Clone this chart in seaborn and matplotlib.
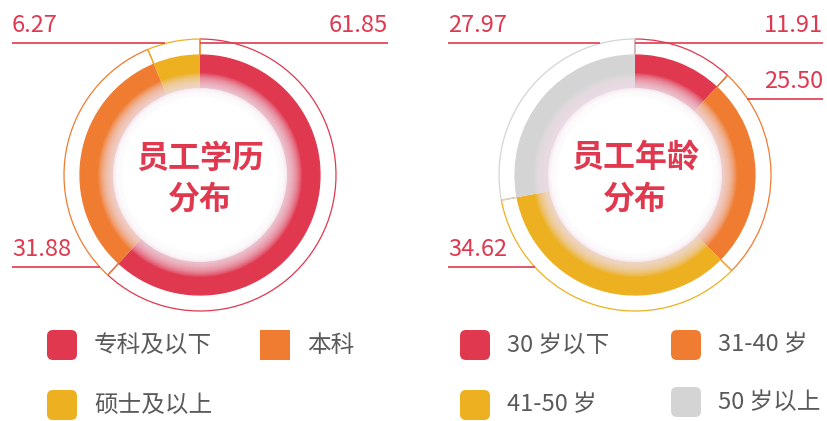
import numpy as np
import matplotlib.pyplot as plt
from matplotlib.patches import Circle, FancyBboxPatch
import seaborn as sns

# Data
edu_labels = ["专科及以下", "本科", "硕士及以上"]
edu_values = [61.85, 31.88, 6.27]
age_labels = ["30 岁以下", "31-40 岁", "41-50 岁", "50 岁以上"]
age_values = [11.91, 25.50, 34.62, 27.97]

RED = "#e0384f"
ORANGE = "#ef7c31"
YELLOW = "#edb021"
GREY = "#d4d4d4"
edu_colors = [RED, ORANGE, YELLOW]
age_colors = [RED, ORANGE, YELLOW, GREY]

sns.set_theme(style="white")
plt.rcParams["font.family"] = ["Noto Sans CJK SC", "DejaVu Sans"]

W, H = 827, 421
fig = plt.figure(figsize=(W / 100, H / 100), dpi=100)
ax = fig.add_axes([0, 0, 1, 1])


def Y(py):
    # pixel row from top -> data y
    return H - py


def donut(cx, cy, values, colors, title):
    c = (cx, Y(cy))
    # thin outer outline ring
    ax.pie(values, colors=colors, startangle=90, counterclock=False,
           radius=136, center=c,
           wedgeprops=dict(width=16, fill=False, linewidth=0.9))
    for w, col in zip(ax.patches[-len(values):], colors):
        w.set_edgecolor(col)
    # thick ring
    ax.pie(values, colors=colors, startangle=90, counterclock=False,
           radius=120, center=c,
           wedgeprops=dict(width=33, linewidth=0))
    # soft inner glow
    for r in np.linspace(102, 87, 16):
        ax.add_patch(Circle(c, r, color="#f3e2eb", alpha=0.11, lw=0, zorder=3))
    for r in np.linspace(87, 78, 10):
        ax.add_patch(Circle(c, r, color="white", alpha=0.3, lw=0, zorder=3))
    ax.add_patch(Circle(c, 78, color="white", lw=0, zorder=3))
    ax.text(cx, Y(cy + 4), title, ha="center", va="center", color=RED,
            fontsize=23, fontweight="bold", linespacing=1.35, zorder=5)


def leader(x0, x1, py, label, align):
    ax.plot([x0, x1], [Y(py), Y(py)], color=RED, lw=1.2, zorder=2,
            solid_capstyle="butt")
    tx = x0 if align == "left" else x1
    ax.text(tx, Y(py - 6), label, ha=align, va="bottom", color=RED,
            fontsize=17)


donut(200, 175, edu_values, edu_colors, "员工学历\n分布")
donut(635, 175, age_values, age_colors, "员工年龄\n分布")

# leader lines + value labels
leader(200, 388, 43, f"{edu_values[0]:.2f}", "right")
leader(12, 165, 43, f"{edu_values[2]:.2f}", "left")
leader(12, 100, 267, f"{edu_values[1]:.2f}", "left")
leader(635, 823, 43, f"{age_values[0]:.2f}", "right")
leader(747, 823, 99, f"{age_values[1]:.2f}", "right")
leader(448, 600, 43, f"{age_values[3]:.2f}", "left")
leader(448, 535, 267, f"{age_values[2]:.2f}", "left")


def legend_item(px, py, color, label, rounded=True):
    size = 30
    style = "round,pad=0,rounding_size=6" if rounded else "square,pad=0"
    ax.add_patch(FancyBboxPatch((px, Y(py) - size / 2), size, size,
                                boxstyle=style, fc=color, ec="none"))
    ax.text(px + 47, Y(py), label, ha="left", va="center",
            color="#5a5a5a", fontsize=17, fontweight="light")


edu_pos = [(47, 345), (260, 345), (47, 405)]
for (px, py), col, lab, rnd in zip(edu_pos, edu_colors, edu_labels,
                                   [True, False, True]):
    legend_item(px, py, col, lab, rnd)

age_pos = [(460, 345), (671, 345), (460, 405), (671, 402)]
for (px, py), col, lab in zip(age_pos, age_colors, age_labels):
    legend_item(px, py, col, lab)

ax.set_xlim(0, W)
ax.set_ylim(0, H)
ax.set_aspect("equal")
ax.axis("off")

fig.savefig("out.png", dpi=100)
